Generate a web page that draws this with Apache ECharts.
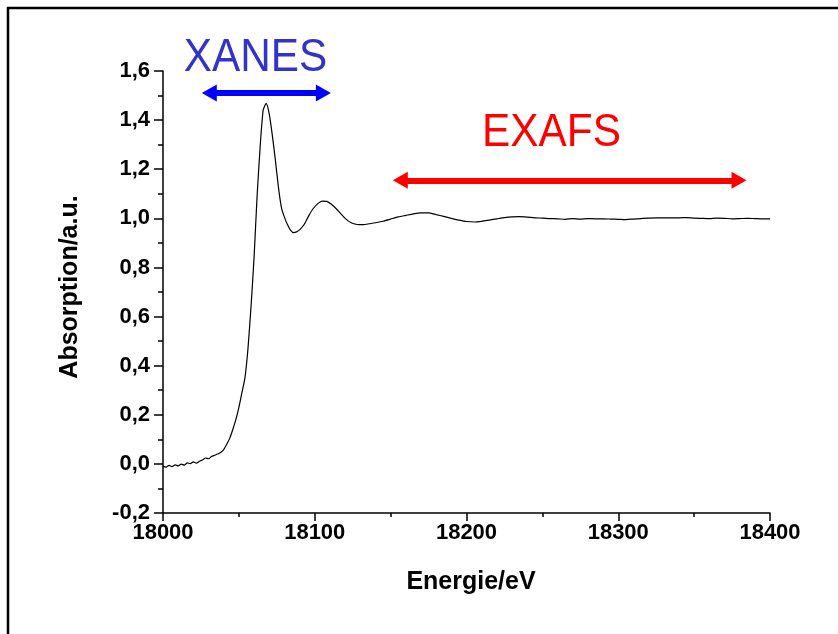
<!DOCTYPE html>
<html>
<head>
<meta charset="utf-8">
<script src="https://cdn.jsdelivr.net/npm/echarts@6/dist/echarts.min.js"></script>
<style>
  html, body { margin: 0; padding: 0; background: #fff; }
  #chart { width: 838px; height: 634px; }
</style>
</head>
<body>
<div id="chart"></div>
<script>
// Zr K-edge absorption spectrum: photon energy (eV) and normalised absorption
const energy = [
  18000, 18002, 18004, 18006, 18008, 18010, 18012, 18014, 18016, 18018,
  18020, 18022, 18024, 18026, 18028, 18030, 18032, 18034, 18036, 18038,
  18040, 18042, 18044, 18046, 18048, 18050, 18052, 18054, 18056, 18058,
  18060, 18062, 18064, 18066, 18068, 18070, 18072, 18074, 18076, 18078,
  18080, 18082, 18084, 18086, 18088, 18090, 18093, 18096, 18099, 18102,
  18105, 18108, 18111, 18114, 18117, 18120, 18124, 18128, 18132, 18136,
  18140, 18145, 18150, 18155, 18160, 18165, 18170, 18175, 18180, 18185,
  18190, 18195, 18200, 18205, 18210, 18215, 18220, 18225, 18230, 18235,
  18240, 18245, 18250, 18255, 18260, 18265, 18270, 18275, 18280, 18285,
  18290, 18295, 18300, 18305, 18310, 18315, 18320, 18325, 18330, 18335,
  18340, 18345, 18350, 18355, 18360, 18365, 18370, 18375, 18380, 18385,
  18390, 18395, 18400
];
const absorption = [
  -0.010, -0.013, -0.006, -0.011, -0.004, -0.008, -0.001, -0.005, 0.004, 0.001,
  0.008, 0.003, 0.011, 0.016, 0.024, 0.021, 0.030, 0.035, 0.040, 0.046,
  0.058, 0.080, 0.105, 0.140, 0.180, 0.230, 0.290, 0.350, 0.470, 0.640,
  0.840, 1.090, 1.290, 1.440, 1.468, 1.425, 1.340, 1.240, 1.130, 1.045,
  1.005, 0.975, 0.952, 0.942, 0.945, 0.953, 0.975, 1.010, 1.040, 1.060,
  1.070, 1.069, 1.057, 1.040, 1.020, 1.000, 0.982, 0.975, 0.974, 0.978,
  0.982, 0.988, 0.997, 1.006, 1.012, 1.018, 1.022, 1.022, 1.015, 1.008,
  1.000, 0.993, 0.987, 0.985, 0.988, 0.993, 0.998, 1.003, 1.006, 1.007,
  1.005, 1.002, 1.001, 0.999, 0.998, 0.996, 0.999, 0.997, 0.999, 0.998,
  0.998, 0.997, 0.996, 0.995, 0.997, 0.999, 1.001, 1.002, 1.002, 1.002,
  1.002, 1.003, 1.001, 1.000, 0.999, 1.001, 1.000, 0.998, 0.999, 1.000,
  0.999, 0.998, 0.998
];

// Energy ranges (arrowhead centres) of the two spectral regions, and arrow heights
const xanesRange = [18030.5, 18105.7];
const xanesLevel = 1.51;
const exafsRange = [18156.4, 18379.6];
const exafsLevel = 1.155;

// Anchor points (data coordinates) for the region captions
const xanesCaption = { text: 'XANES', at: [18061, 1.652] };
const exafsCaption = { text: 'EXAFS', at: [18256, 1.347] };

// Axis tick labels
const xTicks = [18000, 18100, 18200, 18300, 18400];
const yTicks = [-0.2, 0.0, 0.2, 0.4, 0.6, 0.8, 1.0, 1.2, 1.4, 1.6];

const spectrum = energy.map((e, i) => [e, absorption[i]]);

const labelFont = {
  fontFamily: 'Liberation Sans, Arial, sans-serif',
  fontWeight: 'bold',
  fontSize: 22,
  color: '#000'
};
const titleFont = Object.assign({}, labelFont, { fontSize: 25 });

function arrowSeries(name, range, level, color) {
  return {
    name: name,
    type: 'line',
    data: [],
    silent: true,
    markLine: {
      silent: true,
      animation: false,
      symbol: ['triangle', 'triangle'],
      symbolSize: [17, 15],
      label: { show: false },
      lineStyle: { color: color, width: 6, type: 'solid' },
      emphasis: { disabled: true },
      data: [[
        { coord: [range[0], level] },
        { coord: [range[1], level] }
      ]]
    }
  };
}

const chart = echarts.init(document.getElementById('chart'), null, { renderer: 'canvas' });

const option = {
  animation: false,
  backgroundColor: '#fff',
  grid: { left: 163, right: 68, top: 71, bottom: 121, containLabel: false },
  xAxis: {
    type: 'value',
    min: xTicks[0],
    max: xTicks[xTicks.length - 1],
    interval: 100,
    name: 'Energie/eV',
    nameLocation: 'middle',
    nameGap: 57,
    nameTextStyle: Object.assign({ padding: [0, 0, 0, 9] }, titleFont),
    axisLine: { show: true, onZero: false, lineStyle: { color: '#000', width: 1.5 } },
    axisTick: { show: true, inside: false, length: 8, lineStyle: { color: '#000', width: 1.5 } },
    minorTick: { show: true, splitNumber: 2, length: 4, lineStyle: { color: '#000', width: 1.5 } },
    axisLabel: Object.assign({ margin: 9, formatter: v => String(v) }, labelFont),
    splitLine: { show: false }
  },
  yAxis: {
    type: 'value',
    min: yTicks[0],
    max: yTicks[yTicks.length - 1],
    interval: 0.2,
    name: 'Absorption/a.u.',
    nameLocation: 'middle',
    nameGap: 80,
    nameTextStyle: Object.assign({ padding: [0, 0, 0, 10] }, titleFont),
    axisLine: { show: true, onZero: false, lineStyle: { color: '#000', width: 1.5 } },
    axisTick: { show: true, inside: false, length: 9, lineStyle: { color: '#000', width: 1.5 } },
    minorTick: { show: true, splitNumber: 2, length: 5, lineStyle: { color: '#000', width: 1.5 } },
    axisLabel: Object.assign({
      margin: 13,
      formatter: v => v.toFixed(1).replace('.', ',')
    }, labelFont),
    splitLine: { show: false }
  },
  series: [
    {
      name: 'spectrum',
      type: 'line',
      data: spectrum,
      showSymbol: false,
      smooth: 0.2,
      clip: false,
      lineStyle: { color: '#000', width: 1.2 },
      silent: true
    },
    arrowSeries('xanes', xanesRange, xanesLevel, '#0000ff'),
    arrowSeries('exafs', exafsRange, exafsLevel, '#ff0000')
  ]
};

chart.setOption(option);

// Region captions and the outer frame, placed through the grid's coordinate system
function captionAt(cap, color) {
  const p = chart.convertToPixel({ gridIndex: 0 }, cap.at);
  return {
    type: 'text',
    x: p[0],
    y: p[1],
    scaleX: 0.92,
    silent: true,
    style: {
      text: cap.text,
      fill: color,
      font: 'normal 46px "Liberation Sans", Arial, sans-serif',
      align: 'center',
      verticalAlign: 'middle'
    }
  };
}

chart.setOption({
  graphic: [
    {
      type: 'rect',
      silent: true,
      shape: { x: 8, y: 8, width: 840, height: 640 },
      style: { fill: 'none', stroke: '#000', lineWidth: 2.5 }
    },
    captionAt(xanesCaption, '#3333cc'),
    captionAt(exafsCaption, '#ff0000')
  ]
});
</script>
</body>
</html>
